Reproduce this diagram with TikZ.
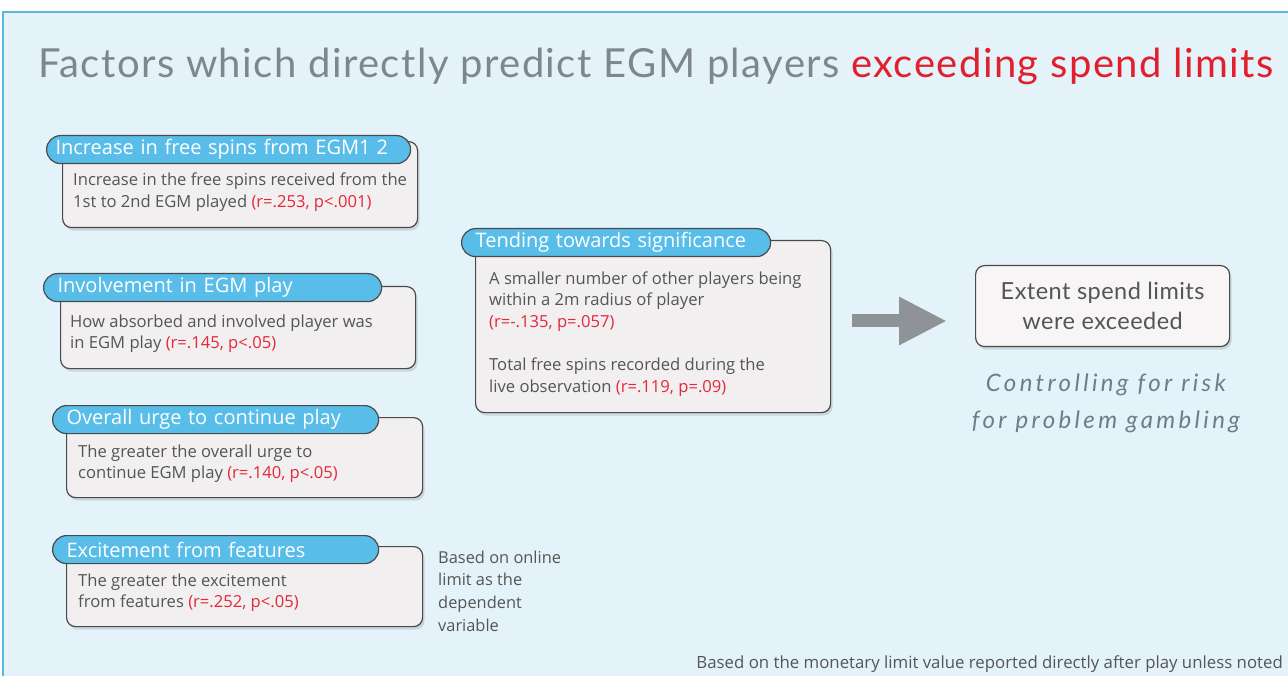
\documentclass[tikz,border=0pt]{standalone}
\usepackage{fontspec}
\setmainfont{Open Sans}
\newfontfamily\gillfont{Lato}
\usetikzlibrary{shadows,arrows.meta}
\definecolor{bgblue}{HTML}{E4F3FA}
\definecolor{frameblue}{HTML}{5DB6DE}
\definecolor{pillblue}{HTML}{58BEE9}
\definecolor{boxline}{HTML}{4A4A4A}
\definecolor{boxfill}{HTML}{F1EFEF}
\definecolor{bodygray}{HTML}{555555}
\definecolor{statred}{HTML}{E5283A}
\definecolor{titlegray}{HTML}{7E878C}
\definecolor{titlered}{HTML}{E21F2D}
\definecolor{arrowgray}{HTML}{8F9397}
\definecolor{italicgray}{HTML}{6D7D89}
\newcommand{\stat}[1]{\textcolor{statred}{#1}}
\tikzset{
  bodybox/.style={draw=boxline, line width=1.2pt, fill=boxfill, rounded corners=9pt,
    drop shadow={shadow xshift=2pt, shadow yshift=-3pt, opacity=0.25},
    anchor=north west, inner sep=0pt},
  pill/.style={draw=boxline, line width=1.2pt, fill=pillblue, rounded corners=14pt,
    anchor=north west, inner xsep=14pt, inner ysep=0pt, text=white,
    font=\fontsize{20}{22}\selectfont, align=left, minimum height=28pt},
  bodytext/.style={anchor=base west, inner sep=0pt, align=left, text=bodygray,
    font=\fontsize{16.6}{21.6}\selectfont},
  notetext/.style={anchor=base west, inner sep=0pt, align=left, text=bodygray,
    font=\fontsize{16.4}{22.7}\selectfont},
}
\begin{document}
\begin{tikzpicture}[x=1pt,y=-1pt]
\useasboundingbox (0,0) rectangle (1288,676);
\fill[white] (0,0) rectangle (1288,676);
\fill[bgblue] (3,12) rectangle (1288,676);
\draw[frameblue, line width=1.5pt] (3,676) -- (3,12) -- (1288,12);

% title
\node[anchor=base west, inner sep=0pt, text=titlegray,
  font=\gillfont\fontsize{40}{42}\selectfont\addfontfeature{LetterSpace=3.6}] (title) at (38,78)
  {Factors which directly predict EGM players \textcolor{titlered}{exceeding spend limits}};

% box 1
\node[bodybox, minimum width=355pt, minimum height=86pt] (b1) at (62,141) {};
\node[pill, text width=346pt, inner xsep=9pt] (p1) at (46,135) {Increase in free spins from EGM1\hspace{0.3em}2};
\node[bodytext] (t1) at (73,207.6) {Increase in the free spins received from the\\1st to 2nd EGM played \stat{(r=.253, p<.001)}};

% box 2
\node[bodybox, minimum width=355pt, minimum height=82pt] (b2) at (60,286) {};
\node[pill, text width=310pt] (p2) at (43,273) {Involvement in EGM play};
\node[bodytext] (t2) at (70,348.6) {How absorbed and involved player was\\in EGM play \stat{(r=.145, p<.05)}};

% box 3
\node[bodybox, minimum width=356pt, minimum height=80pt] (b3) at (66,417) {};
\node[pill, text width=298pt] (p3) at (52,405) {Overall urge to continue play};
\node[bodytext] (t3) at (78,478.6) {The greater the overall urge to\\continue EGM play \stat{(r=.140, p<.05)}};

% box 4
\node[bodybox, minimum width=356pt, minimum height=80pt] (b4) at (66,546) {};
\node[pill, text width=298pt] (p4) at (52,535) {Excitement from features};
\node[bodytext] (t4) at (78,607.6) {The greater the excitement\\from features \stat{(r=.252, p<.05)}};

\node[notetext] (note) at (438,631.1) {Based on online\\limit as the\\dependent\\variable};

% middle box
\node[bodybox, minimum width=355pt, minimum height=172pt] (bm) at (475,240) {};
\node[pill, text width=281pt] (pm) at (461,228) {Tending towards significance};
\node[bodytext] (tm) at (489,392) {A smaller number of other players being\\within a 2m radius of player\\\stat{(r=-.135, p=.057)}\\[21.6pt]Total free spins recorded during the\\live observation \stat{(r=.119, p=.09)}};

% arrow
\coordinate (as) at (852,321);
\coordinate (ae) at (947,321);
\draw[arrowgray, line width=13pt, -{Triangle[length=48pt, width=45pt]}] (as) -- (ae);

% target
\node[bodybox, minimum width=254pt, minimum height=81pt, fill=boxfill!60!white] (tg) at (975,265) {};
\node[anchor=center, inner sep=0pt, align=center, text=bodygray,
  font=\gillfont\fontsize{23.5}{30}\selectfont\addfontfeature{LetterSpace=2}] (tgt) at (tg.center) {Extent spend limits\\were exceeded};

\node[anchor=center, inner sep=0pt, align=center, text=italicgray,
  font=\gillfont\itshape\fontsize{24}{37}\selectfont\addfontfeature{LetterSpace=14}] (ctrl) at (1106,403)
  {Controlling for risk\\for problem gambling};

% footer
\node[anchor=base east, inner sep=0pt, text=bodygray, font=\fontsize{16.8}{18}\selectfont] (foot) at (1283,668)
  {Based on the monetary limit value reported directly after play unless noted};
\end{tikzpicture}
\end{document}
